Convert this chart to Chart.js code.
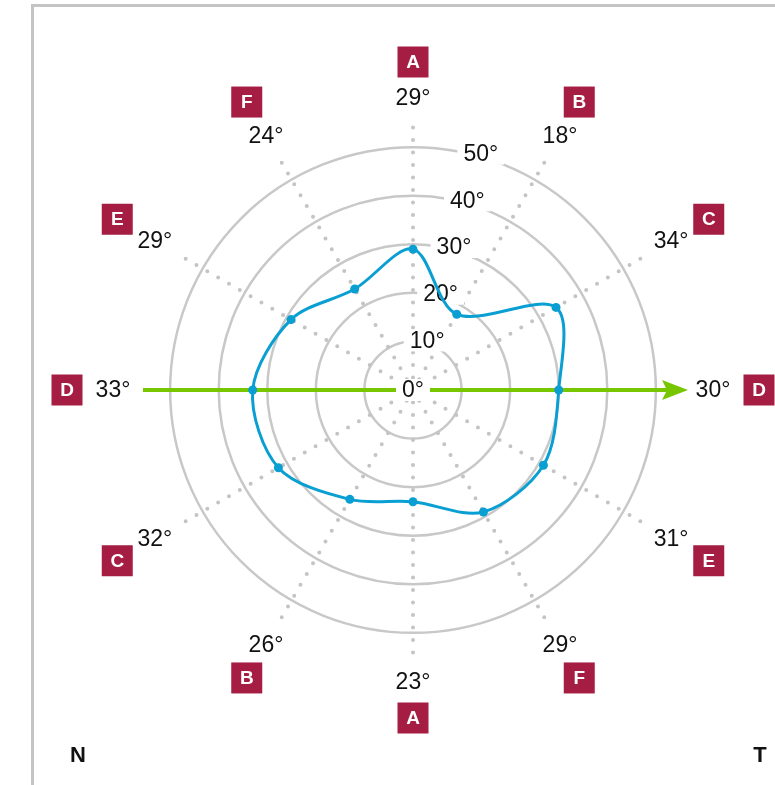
<!DOCTYPE html>
<html>
<head>
<meta charset="utf-8">
<script src="https://cdn.jsdelivr.net/npm/chart.js@4.4.0/dist/chart.umd.min.js"></script>
<style>
  html, body { margin: 0; padding: 0; background: #fff; }
  canvas { display: block; }
</style>
</head>
<body>
<canvas id="polarChart" width="775" height="785"></canvas>
<script>
// data
const categories = ['A', 'B', 'C', 'D', 'E', 'F', 'A', 'B', 'C', 'D', 'E', 'F'];
const degrees = [29, 18, 34, 30, 31, 29, 23, 26, 32, 33, 29, 24];
const ringTicks = [0, 10, 20, 30, 40, 50];
const cornerLabels = ['N', 'T'];

const FONT = '"Liberation Sans", Arial, sans-serif';
const BLUE = '#0a9fd2';
const GREEN = '#77c600';
const CRIMSON = '#a51d42';
const GREY = '#c4c4c4';

const decorPlugin = {
    id: 'decor',
    beforeDatasetsDraw(chart) {
        const s = chart.scales.r;
        const ctx = chart.ctx;
        const cx = s.xCenter, cy = s.yCenter;

        // dotted spokes
        ctx.save();
        ctx.strokeStyle = GREY;
        ctx.lineWidth = 4;
        ctx.lineCap = 'round';
        ctx.setLineDash([0, 12.5]);
        for (let i = 0; i < categories.length; i++) {
            const p = s.getPointPosition(i, s.drawingArea);
            ctx.beginPath();
            ctx.moveTo(cx, cy);
            ctx.lineTo(p.x, p.y);
            ctx.stroke();
        }
        ctx.restore();

        // green arrow along the D axis
        const left = s.getPointPosition(9, s.drawingArea - 2);
        const tip = s.getPointPosition(3, s.drawingArea + 3);
        ctx.save();
        ctx.strokeStyle = GREEN;
        ctx.fillStyle = GREEN;
        ctx.lineWidth = 4;
        ctx.beginPath();
        ctx.moveTo(left.x, cy);
        ctx.lineTo(tip.x - 20, cy);
        ctx.stroke();
        ctx.beginPath();
        ctx.moveTo(tip.x, cy);
        ctx.lineTo(tip.x - 26, cy - 10);
        ctx.lineTo(tip.x - 21, cy);
        ctx.lineTo(tip.x - 26, cy + 10);
        ctx.closePath();
        ctx.fill();
        ctx.restore();

        // ring labels with white backdrop
        ctx.save();
        ctx.font = '23px ' + FONT;
        ctx.textAlign = 'center';
        ctx.textBaseline = 'middle';
        const ang = 16 * Math.PI / 180;
        ringTicks.forEach(v => {
            const r = v === 0 ? 0 : s.getDistanceFromCenterForValue(v) + 3;
            const x = cx + r * Math.sin(ang);
            const y = cy - r * Math.cos(ang);
            const txt = v + '°';
            const w = ctx.measureText(txt).width;
            ctx.fillStyle = '#fff';
            ctx.fillRect(x - w / 2 - 6, y - 11, w + 12, 22);
            ctx.fillStyle = '#111';
            ctx.fillText(txt, x, y + 1);
        });
        ctx.restore();
    },
    afterDraw(chart) {
        const s = chart.scales.r;
        const ctx = chart.ctx;
        ctx.save();

        // value labels and letter boxes round the outside
        categories.forEach((cat, i) => {
            const a = s.getIndexAngle(i);
            const sin2 = Math.pow(Math.sin(a), 2);
            const t = s.getPointPosition(i, 292 + 8 * sin2);
            const b = s.getPointPosition(i, 328 + 18 * sin2);

            ctx.font = '23px ' + FONT;
            ctx.fillStyle = '#111';
            ctx.textAlign = 'center';
            ctx.textBaseline = 'middle';
            ctx.fillText(degrees[i] + '°', t.x, t.y + 1);

            ctx.fillStyle = CRIMSON;
            ctx.fillRect(b.x - 15.5, b.y - 15.5, 31, 31);
            ctx.fillStyle = '#fff';
            ctx.font = 'bold 19px ' + FONT;
            ctx.fillText(cat, b.x, b.y + 1);
        });

        // corner letters
        ctx.font = 'bold 22px ' + FONT;
        ctx.fillStyle = '#111';
        ctx.textAlign = 'center';
        ctx.textBaseline = 'middle';
        ctx.fillText(cornerLabels[0], 78, 756);
        ctx.fillText(cornerLabels[1], 760, 756);

        // frame
        ctx.strokeStyle = GREY;
        ctx.lineWidth = 3;
        ctx.beginPath();
        ctx.moveTo(32.5, 785);
        ctx.lineTo(32.5, 5.5);
        ctx.lineTo(775, 5.5);
        ctx.stroke();
        ctx.restore();
    }
};

function createPolarChart() {
    const ctx = document.getElementById('polarChart').getContext('2d');

    new Chart(ctx, {
        type: 'radar',
        data: {
            labels: categories,
            datasets: [{
                data: degrees,
                borderColor: BLUE,
                backgroundColor: 'rgba(0, 0, 0, 0)',
                borderWidth: 3,
                fill: false,
                tension: 0.32,
                pointRadius: 4.5,
                pointBackgroundColor: BLUE,
                pointBorderWidth: 0
            }]
        },
        options: {
            responsive: false,
            animation: false,
            layout: {
                padding: { left: 141, right: 90, top: 118, bottom: 123 }
            },
            plugins: {
                legend: { display: false },
                tooltip: { enabled: false }
            },
            scales: {
                r: {
                    min: 0,
                    max: 56,
                    afterBuildTicks: (scale) => {
                        scale.ticks = ringTicks.map(v => ({ value: v }));
                    },
                    ticks: { display: false },
                    grid: {
                        circular: true,
                        color: '#c8c8c8',
                        lineWidth: 2.5
                    },
                    angleLines: { display: false },
                    pointLabels: { display: false }
                }
            }
        },
        plugins: [decorPlugin]
    });
}

createPolarChart();
</script>
</body>
</html>
